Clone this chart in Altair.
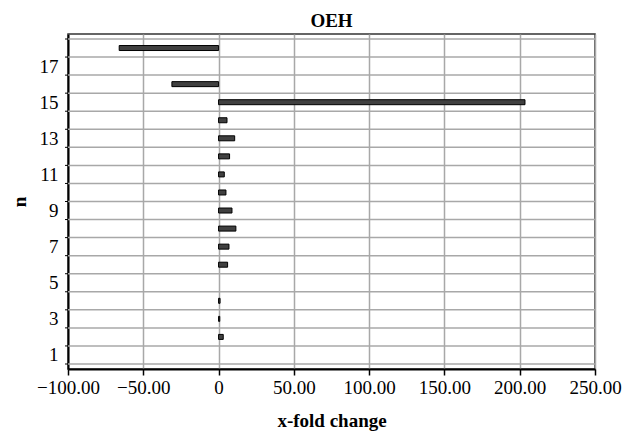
import altair as alt
import pandas as pd

# ---- data ----
n_values = list(range(1, 19))
fold_change = [None, 3.1, 0.8, 1.0, None, 6.0, 6.9, 11.5, 8.9, 4.9,
               3.8, 7.3, 10.7, 5.6, 203.5, -31.0, None, -66.0]
y_label_values = [1, 3, 5, 7, 9, 11, 13, 15, 17]
x_tick_values = [-100, -50, 0, 50, 100, 150, 200, 250]
title_text = "OEH"
x_title = "x-fold change"
y_title = "n"

df = pd.DataFrame({"n": n_values, "value": fold_change}).dropna()
bounds = pd.DataFrame({"b": [v - 0.5 for v in n_values] + [n_values[-1] + 0.5]})

W, H = 527, 335
SERIF = "'Liberation Serif', 'Times New Roman', 'DejaVu Serif', serif"
GRID = "#a8a8a8"

xscale = alt.Scale(domain=[x_tick_values[0], x_tick_values[-1]], nice=False, zero=False)
yscale = alt.Scale(domain=[n_values[0] - 0.5, n_values[-1] + 0.5], nice=False, zero=False)

y_axis = alt.Axis(
    values=y_label_values, grid=False, ticks=False, title=y_title,
    labelFont=SERIF, labelFontSize=19, labelColor="black", labelPadding=10,
    domainColor="black", domainWidth=2,
    titleFont=SERIF, titleFontSize=19, titleFontWeight="bold", titleColor="black",
    titleAngle=-90, titleX=-43, titleY=H / 2, titleBaseline="alphabetic",
    titleAlign="center",
)
x_axis = alt.Axis(
    values=x_tick_values, grid=True, gridColor=GRID, gridWidth=1.5,
    labelExpr="datum.value == 0 ? '0' : format(datum.value, '.2f')",
    labelFont=SERIF, labelFontSize=19, labelColor="black", labelPadding=3,
    labelFlush=False, labelOverlap=False,
    tickColor="black", tickSize=6, tickWidth=1.5,
    domainColor="black", domainWidth=2, title=x_title,
    titleFont=SERIF, titleFontSize=19, titleFontWeight="bold", titleColor="black",
    titleX=W / 2, titleY=57, titleBaseline="alphabetic", titleAlign="center",
)

hgrid = alt.Chart(bounds).mark_rule(color=GRID, strokeWidth=1.5).encode(
    y=alt.Y("b:Q", scale=yscale, axis=y_axis),
    x=alt.value(0), x2=alt.value(W),
)
yticks = alt.Chart(bounds).mark_rule(color="black", strokeWidth=1).encode(
    y=alt.Y("b:Q", scale=yscale, axis=y_axis),
    x=alt.value(-3), x2=alt.value(0),
)
bars = alt.Chart(df).mark_bar(
    orient="horizontal", size=5, color="#404040", stroke="black", strokeWidth=1
).encode(
    x=alt.X("value:Q", scale=xscale, axis=x_axis),
    y=alt.Y("n:Q", scale=yscale, axis=y_axis),
)

chart = alt.layer(hgrid, yticks, bars).properties(
    width=W, height=H,
    title=alt.TitleParams(title_text, font=SERIF, fontSize=19, fontWeight="bold",
                          color="black", anchor="middle", offset=3),
    autosize=alt.AutoSizeParams(type="none"),
    padding={"left": 60, "top": 26, "right": 27, "bottom": 62},
).configure_view(stroke="#333333", strokeWidth=1.5)

chart.save("out.html", embed_options={"renderer": "svg", "actions": False})
